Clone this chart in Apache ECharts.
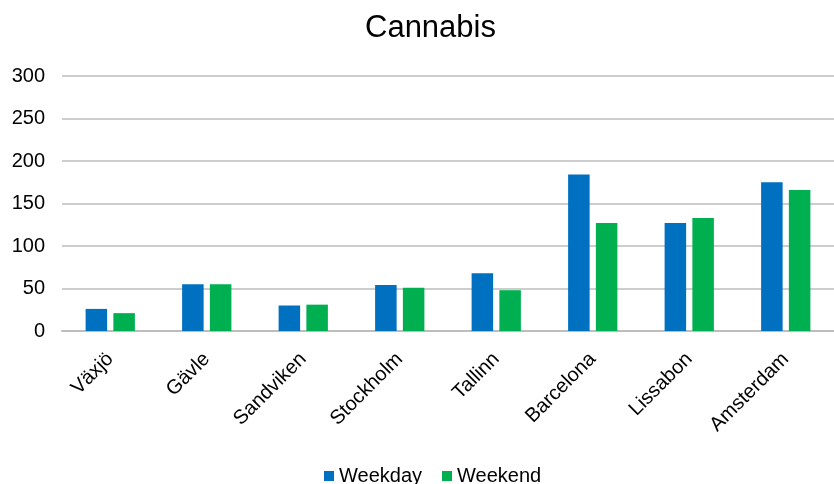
<!DOCTYPE html>
<html>
<head>
<meta charset="utf-8">
<script src="https://cdn.jsdelivr.net/npm/echarts@6/dist/echarts.min.js"></script>
<style>
  html, body { margin: 0; padding: 0; background: #ffffff; }
  #chart { width: 834px; height: 484px; }
</style>
</head>
<body>
<div id="chart"></div>
<script>
// Cannabis: measured levels per city, weekday vs weekend
const cities = ['Växjö', 'Gävle', 'Sandviken', 'Stockholm', 'Tallinn', 'Barcelona', 'Lissabon', 'Amsterdam'];
const weekday = [26, 55, 30, 54, 68, 184, 127, 175];
const weekend = [21, 55, 31, 51, 48, 127, 133, 166];
const yTicks = [0, 50, 100, 150, 200, 250, 300];

const FONT = '"Liberation Sans", Arial, sans-serif';

const chart = echarts.init(document.getElementById('chart'), null, { renderer: 'canvas' });
chart.setOption({
  animation: false,
  backgroundColor: '#ffffff',
  title: {
    text: 'Cannabis',
    left: 360,
    top: 8,
    textStyle: { fontFamily: FONT, fontSize: 31, fontWeight: 'normal', color: '#000000' }
  },
  legend: {
    data: ['Weekday', 'Weekend'],
    left: 319,
    top: 461,
    icon: 'rect',
    itemWidth: 10,
    itemHeight: 10,
    itemGap: 20,
    textStyle: { fontFamily: FONT, fontSize: 20, color: '#000000' }
  },
  grid: { left: 62, right: -6, top: 76, bottom: 153, containLabel: false },
  xAxis: {
    type: 'category',
    data: cities,
    axisTick: { show: false },
    axisLine: { lineStyle: { color: '#bdbdbd', width: 2 } },
    axisLabel: {
      rotate: 45,
      interval: 0,
      margin: 25,
      fontFamily: FONT,
      fontSize: 20,
      color: '#000000'
    }
  },
  yAxis: {
    type: 'value',
    min: yTicks[0],
    max: yTicks[yTicks.length - 1],
    interval: 50,
    axisLine: { show: false },
    axisTick: { show: false },
    axisLabel: { margin: 17, fontFamily: FONT, fontSize: 20, color: '#000000' },
    splitLine: { lineStyle: { color: '#bcbcbc', width: 1.5 } }
  },
  series: [
    {
      name: 'Weekday',
      type: 'bar',
      data: weekday,
      barWidth: '22.3%',
      barGap: '29%',
      itemStyle: { color: '#0070C0' }
    },
    {
      name: 'Weekend',
      type: 'bar',
      data: weekend,
      barWidth: '22.3%',
      itemStyle: { color: '#00B050' }
    }
  ]
});
</script>
</body>
</html>
